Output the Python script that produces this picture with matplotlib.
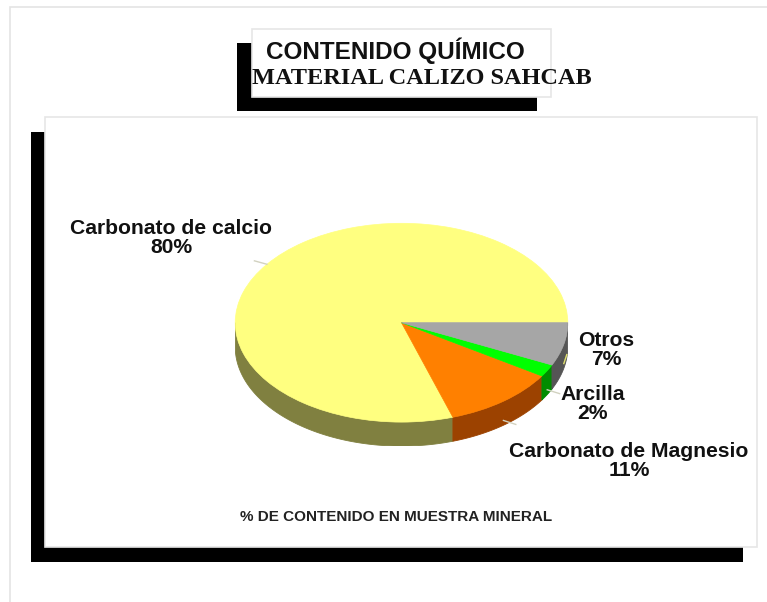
import numpy as np
import matplotlib
matplotlib.use("Agg")
import matplotlib.pyplot as plt
from matplotlib.patches import Rectangle

# ---- data ----
categories = ["Carbonato de calcio", "Carbonato de Magnesio", "Arcilla", "Otros"]
percent = [80, 11, 2, 7]
top_colors = ["#ffff80", "#ff8000", "#00ff00", "#a6a6a6"]
side_colors = ["#808040", "#9c4200", "#008c00", "#555555"]

title_line1 = "CONTENIDO QUÍMICO"
title_line2 = "MATERIAL CALIZO SAHCAB"
caption = "% DE CONTENIDO EN MUESTRA MINERAL"

# ---- layout (pixels) ----
W, H = 767, 602
cx, cy = 401.5, 322.7       # pie centre (top face)
R, Ry = 166.3, 99.4         # horizontal / vertical radius of the top face
depth = 24.0                # thickness of the pie wall
label_pos = [(171, 238), (629, 461), (593, 404), (606, 350)]

fig = plt.figure(figsize=(W / 100, H / 100), dpi=100)
fig.patch.set_facecolor("white")

# background frames and shadows
bg = fig.add_axes([0, 0, 1, 1])
bg.set_xlim(0, W)
bg.set_ylim(H, 0)
bg.axis("off")
bg.add_patch(Rectangle((10, 7), 770, 600, facecolor="white", edgecolor="#e4e4e4", lw=1.2))
# plot area
bg.add_patch(Rectangle((30.7, 131.7), 712.5, 430.5, facecolor="black", edgecolor="none"))
bg.add_patch(Rectangle((45, 116.7), 711.7, 430.3, facecolor="white", edgecolor="#e6e6e6", lw=1.2))
# title box
bg.add_patch(Rectangle((237.3, 43.3), 299.4, 67.5, facecolor="black", edgecolor="none"))
bg.add_patch(Rectangle((251.7, 29.3), 299.3, 67.4, facecolor="white", edgecolor="#e6e6e6", lw=1.2))

# ---- 3D-looking pie ----
d = depth / Ry
left = cx - R
bottom_px = cy + Ry + depth
pax = fig.add_axes([left / W, (H - bottom_px) / H, 2 * R / W, (bottom_px - (cy - Ry)) / H])

vals = np.array(percent, dtype=float)
edges = np.concatenate([[0], np.cumsum(vals)]) / vals.sum() * 360.0

# front wall, one piece per slice where it faces the viewer
for i in range(len(vals)):
    a0, a1 = max(edges[i], 180.0), min(edges[i + 1], 360.0)
    if a1 <= a0:
        continue
    t = np.radians(np.linspace(a0, a1, 120))
    xs = np.concatenate([np.cos(t), np.cos(t[::-1])])
    ys = np.concatenate([np.sin(t), np.sin(t[::-1]) - d])
    pax.fill(xs, ys, color=side_colors[i], lw=0.6, ec=side_colors[i], zorder=1)

wedges, _ = pax.pie(vals, colors=top_colors, startangle=0, counterclock=True,
                    radius=1.0, wedgeprops=dict(linewidth=0.5))
for w, c in zip(wedges, top_colors):
    w.set_edgecolor(c)
    w.set_zorder(2)
pax.set_aspect("auto")
pax.set_xlim(-1, 1)
pax.set_ylim(-1 - d, 1)
pax.axis("off")

# ---- texts and leader lines ----
tx = fig.add_axes([0, 0, 1, 1])
tx.set_xlim(0, W)
tx.set_ylim(H, 0)
tx.axis("off")
tx.patch.set_alpha(0)

tx.text(395, 51, title_line1, ha="center", va="center", fontsize=17.5,
        fontweight="bold", family="Liberation Sans", color="#111111")
tx.text(422, 78.5, title_line2, ha="center", va="center", fontsize=17.5,
        fontweight="bold", family="Liberation Serif", color="#111111")

mids = (edges[:-1] + edges[1:]) / 2
for i, (name, p) in enumerate(zip(categories, percent)):
    lx, ly = label_pos[i]
    tx.text(lx, ly, f"{name}\n{p}%", ha="center", va="center", fontsize=15.2,
            fontweight="bold", family="Liberation Sans", color="#111111",
            linespacing=1.0)
    # short leader from the rim towards the label
    m = np.radians(mids[i])
    px, py = cx + R * np.cos(m), cy - Ry * np.sin(m)
    if np.sin(m) < 0:
        py += depth * 0.8
    if i == 3:
        ex, ey = px + 3, py - 9
    else:
        vx, vy = lx - px, ly - py
        n = np.hypot(vx, vy)
        ex, ey = px + vx / n * 13, py + vy / n * 13
    tx.plot([px, ex], [py, ey], color="#d2d2c0" if i != 3 else "#e0e070", lw=1.0)

tx.text(396, 517, caption, ha="center", va="center", fontsize=11,
        fontweight="bold", family="Liberation Sans", color="#222222")

fig.savefig("out.png", dpi=100)
